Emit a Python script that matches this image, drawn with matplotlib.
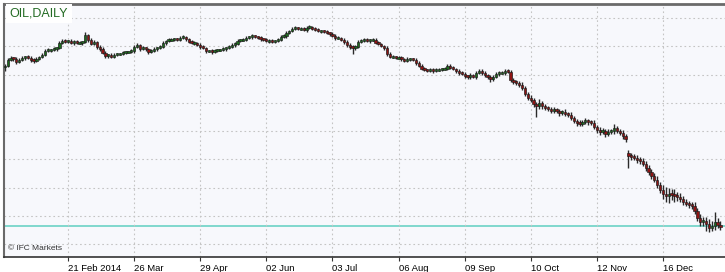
import matplotlib
matplotlib.use("Agg")
import matplotlib.pyplot as plt

# daily candles, bar index 0..249 (Jan 2014 - Jan 2015)
closes = [
    103.1, 105.2, 105.9, 105.5, 104.5, 105.2, 105.9, 106.3, 105.9, 105.2, 104.8, 105.5, 106.3, 107.0, 108.4, 108.7, 108.7, 109.1, 109.4, 111.2, 111.9, 111.6, 111.9, 111.2, 111.6,
    111.2, 111.2, 111.6, 114.0, 112.3, 110.9, 111.6, 109.8, 109.1, 107.7, 106.6, 107.0, 106.3, 107.0, 107.3, 107.3, 107.7, 108.0, 108.0, 108.4, 109.8, 110.5, 109.1, 109.4, 109.1,
    108.0, 108.4, 109.1, 109.4, 109.8, 111.2, 111.9, 112.3, 112.3, 112.6, 112.3, 113.0, 113.3, 112.6, 111.6, 111.2, 111.2, 110.5, 109.8, 109.4, 108.4, 108.4, 108.0, 108.4, 108.7,
    108.7, 109.1, 109.4, 109.8, 110.5, 110.9, 111.9, 112.3, 112.3, 113.0, 113.3, 113.7, 113.3, 113.0, 112.6, 112.3, 111.9, 111.9, 111.6, 111.9, 112.3, 113.3, 113.7, 114.7, 115.4,
    116.2, 116.5, 116.2, 116.2, 115.8, 116.5, 116.8, 116.2, 115.8, 115.4, 115.4, 115.1, 114.7, 114.4, 113.7, 113.0, 113.0, 112.3, 111.6, 110.5, 109.8, 109.4, 109.8, 111.6, 111.9,
    112.3, 111.9, 112.3, 112.3, 111.2, 110.9, 110.1, 109.4, 107.3, 106.3, 106.3, 105.9, 105.9, 105.5, 104.8, 105.5, 105.5, 105.2, 104.1, 103.1, 102.0, 101.7, 101.3, 101.7, 101.3,
    101.7, 101.7, 102.0, 102.0, 103.1, 102.4, 102.0, 101.3, 100.6, 100.2, 99.5, 99.2, 99.9, 99.2, 100.6, 101.3, 100.6, 99.9, 99.2, 98.5, 99.2, 100.2, 100.6, 100.6, 101.3,
    101.0, 98.1, 97.4, 97.1, 96.4, 95.3, 93.2, 91.8, 91.1, 89.6, 88.9, 90.0, 88.9, 88.2, 87.9, 87.2, 87.5, 87.2, 86.5, 86.8, 86.1, 85.8, 84.7, 83.6, 82.9,
    82.6, 83.3, 83.6, 83.3, 82.9, 81.5, 80.5, 79.8, 80.1, 79.1, 79.8, 80.1, 81.2, 80.1, 79.4, 78.3, 77.3, 71.3, 70.9, 70.6, 69.9, 69.5, 68.4, 67.0, 65.6,
    64.2, 62.8, 61.0, 59.3, 57.8, 57.1, 57.8, 57.5, 57.1, 56.8, 56.1, 55.0, 54.3, 53.9, 53.6, 51.8, 49.4, 47.9, 48.3, 47.2, 45.8, 46.5, 47.9, 46.9, 46.3,
]

opens = [
    102.6, 103.1, 105.2, 105.9, 105.5, 104.5, 105.2, 105.9, 106.3, 105.9, 105.2, 104.8, 105.5, 106.3, 107.0, 108.4, 108.7, 108.7, 109.1, 109.4, 111.2, 111.9, 111.6, 111.9, 111.2,
    111.6, 111.2, 111.2, 111.6, 114.0, 112.3, 110.9, 111.6, 109.8, 109.1, 107.7, 106.6, 107.0, 106.3, 107.0, 107.3, 107.3, 107.7, 108.0, 108.0, 108.4, 109.8, 110.5, 109.1, 109.4,
    109.1, 108.0, 108.4, 109.1, 109.4, 109.8, 111.2, 111.9, 112.3, 112.3, 112.6, 112.3, 113.0, 113.3, 112.6, 111.6, 111.2, 111.2, 110.5, 109.8, 109.4, 108.4, 108.4, 108.0, 108.4,
    108.7, 108.7, 109.1, 109.4, 109.8, 110.5, 110.9, 111.9, 112.3, 112.3, 113.0, 113.3, 113.7, 113.3, 113.0, 112.6, 112.3, 111.9, 111.9, 111.6, 111.9, 112.3, 113.3, 113.7, 114.7,
    115.4, 116.2, 116.5, 116.2, 116.2, 115.8, 116.5, 116.8, 116.2, 115.8, 115.4, 115.4, 115.1, 114.7, 114.4, 113.7, 113.0, 113.0, 112.3, 111.6, 110.5, 109.8, 109.4, 109.8, 111.6,
    111.9, 112.3, 111.9, 112.3, 112.3, 111.2, 110.9, 110.1, 109.4, 107.3, 106.3, 106.3, 105.9, 105.9, 105.5, 104.8, 105.5, 105.5, 105.2, 104.1, 103.1, 102.0, 101.7, 101.3, 101.7,
    101.3, 101.7, 101.7, 102.0, 102.0, 103.1, 102.4, 102.0, 101.3, 100.6, 100.2, 99.5, 99.2, 99.9, 99.2, 100.6, 101.3, 100.6, 99.9, 99.2, 98.5, 99.2, 100.2, 100.6, 100.6,
    101.3, 101.0, 98.1, 97.4, 97.1, 96.4, 95.3, 93.2, 91.8, 91.1, 89.6, 88.9, 90.0, 88.9, 88.2, 87.9, 87.2, 87.5, 87.2, 86.5, 86.8, 86.1, 85.8, 84.7, 83.6,
    82.9, 82.6, 83.3, 83.6, 83.3, 82.9, 81.5, 80.5, 79.8, 80.1, 79.1, 79.8, 80.1, 81.2, 80.1, 79.4, 78.3, 72.2, 71.3, 70.9, 70.6, 69.9, 69.5, 68.4, 67.0,
    65.6, 64.2, 62.8, 61.0, 59.3, 57.8, 57.1, 57.8, 57.5, 57.1, 56.8, 56.1, 55.0, 54.3, 53.9, 53.6, 51.8, 49.4, 47.9, 48.3, 47.2, 45.8, 46.5, 47.9, 46.9,
]

upper_wick = [
    0.6, 0.5, 0.7, 0.4, 0.6, 0.5, 0.6, 0.4, 0.5, 0.7, 0.5, 0.6, 0.4, 0.6, 0.5, 0.7, 0.4, 0.6, 0.5, 0.6, 0.7, 0.5, 0.4, 0.6, 0.5,
    0.5, 0.6, 0.4, 0.9, 0.5, 0.6, 0.5, 0.4, 0.6, 0.5, 0.7, 0.4, 0.5, 0.6, 0.5, 0.4, 0.6, 0.5, 0.4, 0.7, 0.6, 0.5, 0.4, 0.6, 0.5,
    0.4, 0.6, 0.5, 0.5, 0.7, 0.6, 0.4, 0.5, 0.6, 0.5, 0.4, 0.6, 0.7, 0.5, 0.4, 0.6, 0.5, 0.4, 0.5, 0.6, 0.5, 0.4, 0.6, 0.5, 0.4,
    0.5, 0.6, 0.4, 0.5, 0.7, 0.5, 0.6, 0.4, 0.5, 0.6, 0.5, 0.7, 0.4, 0.5, 0.6, 0.4, 0.5, 0.6, 0.5, 0.4, 0.6, 0.7, 0.5, 0.6, 0.5,
    0.6, 0.5, 0.4, 0.6, 0.5, 0.5, 0.7, 0.4, 0.5, 0.6, 0.4, 0.5, 0.6, 0.4, 0.5, 0.6, 0.5, 0.4, 0.6, 0.5, 0.7, 0.6, 0.8, 0.6, 0.5,
    0.6, 0.5, 0.4, 0.6, 0.5, 0.6, 0.4, 0.5, 0.7, 0.6, 0.5, 0.4, 0.6, 0.5, 0.4, 0.6, 0.5, 0.4, 0.6, 0.7, 0.5, 0.6, 0.4, 0.5, 0.6,
    0.5, 0.6, 0.4, 0.5, 0.8, 0.6, 0.5, 0.4, 0.6, 0.5, 0.7, 0.5, 0.6, 0.4, 0.8, 0.6, 0.5, 0.6, 0.4, 0.7, 0.5, 0.6, 0.5, 0.7, 0.6,
    0.6, 0.5, 0.7, 0.6, 0.5, 0.8, 0.6, 0.7, 0.9, 0.6, 0.8, 1.4, 0.7, 0.6, 0.8, 0.7, 0.9, 0.6, 0.8, 0.7, 0.9, 0.6, 0.8, 0.7, 0.8,
    0.9, 0.7, 1.0, 0.8, 0.6, 0.9, 0.7, 0.8, 1.0, 0.7, 0.9, 0.8, 1.2, 0.7, 0.8, 0.9, 0.6, 1.2, 1.0, 0.9, 1.1, 0.8, 1.0, 0.9, 1.1,
    1.0, 0.9, 1.2, 1.0, 1.6, 2.4, 2.2, 1.8, 2.0, 1.5, 1.2, 1.0, 1.1, 0.9, 1.0, 1.2, 1.0, 1.3, 1.5, 1.2, 1.6, 1.8, 3.5, 1.4, 1.2,
]

lower_wick = [
    1.2, 0.6, 0.5, 0.7, 0.6, 0.5, 0.4, 0.6, 0.5, 0.6, 0.7, 0.5, 0.4, 0.6, 0.5, 0.4, 0.6, 0.5, 0.7, 0.5, 0.4, 0.6, 0.5, 0.4, 0.6,
    0.5, 0.4, 0.6, 0.5, 0.7, 0.6, 0.5, 0.8, 0.6, 0.5, 0.7, 0.6, 0.5, 0.4, 0.6, 0.5, 0.4, 0.6, 0.5, 0.4, 0.6, 0.5, 0.7, 0.5, 0.6,
    0.6, 0.5, 0.4, 0.6, 0.5, 0.4, 0.6, 0.5, 0.4, 0.6, 0.5, 0.4, 0.5, 0.6, 0.5, 0.4, 0.6, 0.5, 0.6, 0.5, 0.7, 0.5, 0.6, 0.4, 0.5,
    0.4, 0.5, 0.6, 0.4, 0.5, 0.6, 0.4, 0.5, 0.6, 0.4, 0.5, 0.6, 0.5, 0.4, 0.6, 0.5, 0.4, 0.6, 0.5, 0.6, 0.5, 0.4, 0.5, 0.6, 0.4,
    0.5, 0.4, 0.6, 0.5, 0.4, 0.6, 0.5, 0.6, 0.4, 0.5, 0.6, 0.5, 0.4, 0.6, 0.5, 0.7, 0.5, 0.6, 0.7, 0.6, 0.8, 2.0, 0.7, 0.5, 0.6,
    0.4, 0.5, 0.6, 0.4, 0.5, 0.6, 0.5, 0.7, 0.6, 0.5, 0.6, 0.4, 0.5, 0.6, 0.5, 0.4, 0.6, 0.5, 0.7, 0.6, 0.5, 0.6, 0.4, 0.5, 0.6,
    0.4, 0.5, 0.6, 0.5, 0.4, 0.6, 0.5, 0.7, 0.6, 0.5, 0.8, 0.6, 0.7, 0.5, 0.6, 0.5, 0.7, 0.6, 0.8, 1.2, 0.6, 0.5, 0.6, 0.5, 0.6,
    0.5, 0.7, 0.6, 0.8, 0.7, 0.6, 0.9, 0.8, 0.7, 1.0, 3.8, 0.9, 1.0, 0.8, 0.7, 0.9, 0.8, 0.7, 1.0, 0.8, 0.9, 0.7, 0.8, 0.9, 1.0,
    0.8, 0.9, 0.7, 1.0, 0.8, 0.9, 1.2, 1.0, 0.8, 1.1, 0.9, 0.8, 1.0, 0.9, 0.8, 1.0, 1.0, 4.2, 1.0, 0.9, 1.1, 1.0, 0.9, 1.2, 1.0,
    1.1, 0.9, 1.0, 1.2, 1.8, 2.2, 2.5, 1.9, 2.0, 1.4, 1.2, 1.0, 0.9, 1.1, 1.0, 1.2, 1.0, 1.3, 1.6, 2.5, 1.4, 1.2, 1.5, 1.3, 1.1,
]

# bar index of each labelled date
tick_bars = [22, 45, 68, 91, 114, 137, 160, 183, 206, 229]
tick_labels = ["21 Feb 2014", "26 Mar", "29 Apr", "02 Jun", "03 Jul",
               "06 Aug", "09 Sep", "10 Oct", "12 Nov", "16 Dec"]
price_grid = [40, 50, 60, 70, 80, 90, 100, 110, 120]

UP = "#1d6b1d"
DOWN = "#8e1414"
WICK = "#2a2a2a"

W, H = 725, 272
fig = plt.figure(figsize=(W / 100, H / 100), dpi=100)
fig.patch.set_facecolor("white")
ax = fig.add_axes([4 / W, 15 / H, 721 / W, 253 / H])
ax.set_facecolor("#f7f8fc")

rows = list(zip(opens, closes, upper_wick, lower_wick, strict=True))
for i, (o, c, uw, lw) in enumerate(rows):
    top = max(o, c)
    bot = min(o, c)
    ax.vlines(i, bot - lw, top + uw, color=WICK, lw=1.0, zorder=2)
    col = UP if c >= o else DOWN
    # tiny moves still get a visible body, like the terminal draws them
    h = max(top - bot, 0.7)
    mid = (top + bot) / 2
    ax.bar(i, h, bottom=mid - h / 2, width=0.78, color=col,
           edgecolor="#1a1a1a", linewidth=0.45, zorder=3)

# current price line
ax.axhline(closes[-1], color="#5fcfc0", lw=1.1, zorder=1)

ax.set_xlim(-0.28, 250.6)
ax.set_ylim(35.5, 124.95)

ax.set_yticks(price_grid)
ax.set_xticks(tick_bars)
ax.set_xticklabels(tick_labels, ha="left", fontsize=6.8, family="Liberation Sans")
ax.tick_params(axis="y", left=False, labelleft=False)
ax.tick_params(axis="x", direction="out", length=3, width=0.8, color="#333333", pad=2)
ax.grid(True, linestyle=(0, (1.5, 2.5)), color="#c4c4c4", lw=0.8, zorder=0)

ax.spines["right"].set_visible(False)
ax.spines["top"].set_color("#6a6a6a")
ax.spines["top"].set_linewidth(2)
ax.spines["left"].set_color("#6a6a6a")
ax.spines["left"].set_linewidth(1.5)
ax.spines["bottom"].set_color("#333333")
ax.spines["bottom"].set_linewidth(1.2)

ax.text(0.008, 0.985, "OIL,DAILY", transform=ax.transAxes, ha="left", va="top",
        fontsize=9, color="#236b23", family="Liberation Sans",
        bbox=dict(facecolor="white", edgecolor="none", pad=2.5), zorder=5)
ax.text(0.006, 0.02, "\u00a9 IFC Markets", transform=ax.transAxes, ha="left", va="bottom",
        fontsize=6, color="#333333", family="Liberation Sans", zorder=5)

fig.savefig("out.png", dpi=100)
